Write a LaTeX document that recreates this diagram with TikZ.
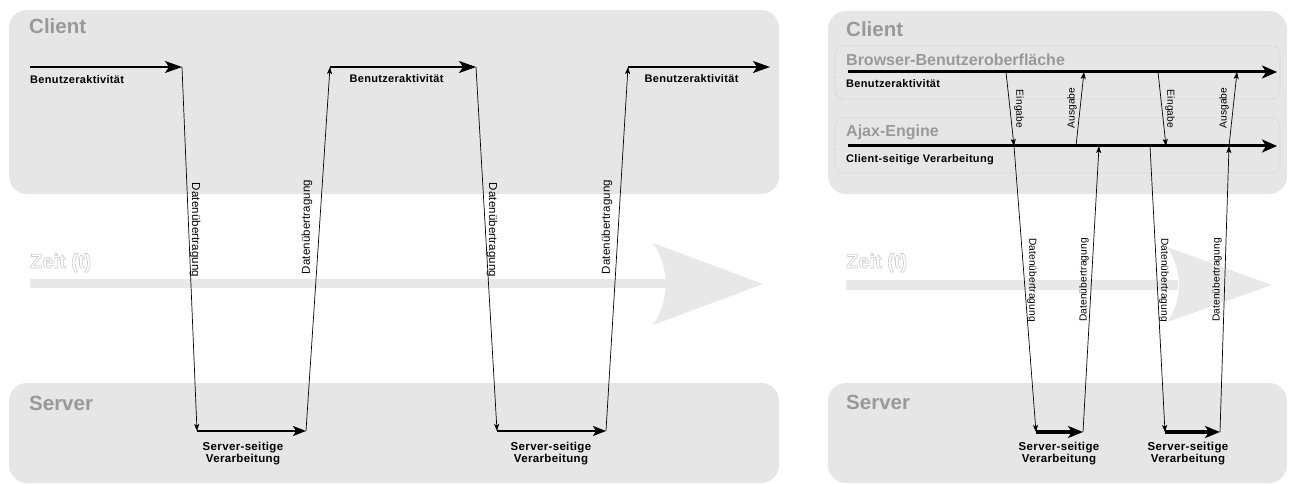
\documentclass[tikz,border=0pt]{standalone}
\usepackage{fontspec}
\setmainfont{Liberation Sans}
\newfontfamily\lblfont[LetterSpace=3]{Liberation Sans}
\newfontfamily\xferfont[LetterSpace=1]{Liberation Sans}
\usetikzlibrary{arrows.meta}
\definecolor{boxgray}{HTML}{E6E6E6}
\definecolor{titlegray}{HTML}{999999}
\definecolor{timegray}{HTML}{E8E8E8}
\definecolor{dotgray}{HTML}{B4B4B4}
\newcommand\outlinedtext[1]{\special{pdf:literal direct 0.80 G 0.6 w 2 Tr}#1\special{pdf:literal direct 0 Tr}}
\begin{document}
\begin{tikzpicture}[x=1pt,y=-1pt,
  panel/.style={fill=boxgray,draw=none,rounded corners=18pt},
  subpanel/.style={draw=dotgray,dotted,line width=0.6pt,rounded corners=8pt},
  timebar/.style={fill=timegray,draw=none},
  title/.style={font=\fontsize{20.5}{24}\selectfont\bfseries,text=titlegray,anchor=base west,inner sep=0pt},
  subtitle/.style={font=\fontsize{16}{19}\selectfont\bfseries,text=titlegray,anchor=base west,inner sep=0pt},
  zeit/.style={font=\fontsize{20}{24}\selectfont\bfseries,text=white,anchor=base west,inner sep=0pt},
  act/.style={font=\lblfont\fontsize{11}{12}\selectfont\bfseries,anchor=base west,inner sep=0pt},
  srv/.style={font=\lblfont\fontsize{11.5}{12}\selectfont\bfseries,align=center,inner sep=0pt},
  xfer/.style={font=\xferfont\fontsize{11.5}{12}\selectfont,inner sep=0pt},
  xfers/.style={font=\xferfont\fontsize{10.2}{12}\selectfont,inner sep=0pt},
  userflow/.style={line width=1.6pt,-{Stealth[length=17pt,width=12pt,inset=4pt]}},
  srvflow/.style={line width=1.6pt,-{Stealth[length=13pt,width=10pt,inset=3pt]}},
  thinflow/.style={line width=0.7pt,-{Stealth[length=7pt,width=5pt,inset=1.5pt]}},
  heavyflow/.style={line width=3pt,-{Stealth[length=15pt,width=13pt,inset=4pt]}},
  srvheavy/.style={line width=3.5pt,-{Stealth[length=15pt,width=12pt,inset=4pt]}}]
\useasboundingbox (0,0) rectangle (1290,484);

% ---------- left panel ----------
\path[panel] (9,10) rectangle (779,194);
\path[panel] (9,383) rectangle (779,483);
\path[timebar] (30,279) rectangle (668,288);
\path[timebar] (653,243) -- (763,284) -- (653,325) .. controls (670,300) and (670,268) .. (653,243);

\node[title] (clientL) at (29,34) {Client};
\node[title] (serverL) at (29,410) {Server};
\node[zeit] (zeitL) at (30,268) {\outlinedtext{Zeit (t)}};

\coordinate (a0) at (30,67);
\coordinate (a1) at (182,67);
\coordinate (s1) at (197,431);
\coordinate (s2) at (306,431);
\coordinate (a2) at (330,67);
\coordinate (a3) at (476,67);
\coordinate (s3) at (497,431);
\coordinate (s4) at (606,431);
\coordinate (a4) at (628,67);
\coordinate (a5) at (770,67);

\draw[userflow] (a0) -- (a1);
\draw[thinflow] (a1) -- (s1);
\draw[srvflow] (s1) -- (s2);
\draw[thinflow] (s2) -- (a2);
\draw[userflow] (a2) -- (a3);
\draw[thinflow] (a3) -- (s3);
\draw[srvflow] (s3) -- (s4);
\draw[thinflow] (s4) -- (a4);
\draw[userflow] (a4) -- (a5);

\node[act] (ba1) at (30,84) {Benutzeraktivität};
\node[act,anchor=base] (ba2) at (396.5,83) {Benutzeraktivität};
\node[act,anchor=base] (ba3) at (691.5,83) {Benutzeraktivität};

\node[xfer,rotate=-90] (dx1) at (195,230) {Datenübertragung};
\node[xfer,rotate=90] (dx2) at (307,227) {Datenübertragung};
\node[xfer,rotate=-90] (dx3) at (492,230) {Datenübertragung};
\node[xfer,rotate=90] (dx4) at (607,227) {Datenübertragung};

\node[srv] (sv1) at (243,454) {Server-seitige\\Verarbeitung};
\node[srv] (sv2) at (551,454) {Server-seitige\\Verarbeitung};

% ---------- right panel ----------
\path[panel] (828,11) rectangle (1287,194);
\path[panel] (828,383) rectangle (1287,483);
\path[subpanel] (835,46) rectangle (1280,99);
\path[subpanel] (835,118) rectangle (1280,173);
\path[timebar] (846,280) rectangle (1178,290);
\path[timebar] (1167,247) -- (1272,285) -- (1167,322) .. controls (1183,300) and (1183,270) .. (1167,247);

\node[title] (clientR) at (846,37) {Client};
\node[title] (serverR) at (846,409) {Server};
\node[subtitle] (browser) at (846,66) {Browser-Benutzeroberfläche};
\node[subtitle] (ajax) at (846,137) {Ajax-Engine};
\node[zeit] (zeitR) at (846,268) {\outlinedtext{Zeit (t)}};

\coordinate (b0) at (848,72);
\coordinate (b1) at (1277,72);
\coordinate (j0) at (848,146);
\coordinate (j1) at (1277,146);
\coordinate (e1s) at (1006,72);
\coordinate (e1e) at (1014,146);
\coordinate (o1s) at (1076,146);
\coordinate (o1e) at (1084,72);
\coordinate (e2s) at (1158,72);
\coordinate (e2e) at (1166,146);
\coordinate (o2s) at (1229,146);
\coordinate (o2e) at (1237,72);
\coordinate (q1) at (1099,146);
\coordinate (q2) at (1150,146);
\coordinate (r1) at (1036,432);
\coordinate (r2) at (1083,432);
\coordinate (r3) at (1165,432);
\coordinate (r4) at (1220,432);

\draw[heavyflow] (b0) -- (b1);
\draw[heavyflow] (j0) -- (j1);
\draw[thinflow] (e1s) -- (e1e);
\draw[thinflow] (o1s) -- (o1e);
\draw[thinflow] (e2s) -- (e2e);
\draw[thinflow] (o2s) -- (o2e);
\draw[thinflow] (e1e) -- (r1);
\draw[thinflow] (r2) -- (q1);
\draw[thinflow] (q2) -- (r3);
\draw[thinflow] (r4) -- (o2s);
\draw[srvheavy] (r1) -- (r2);
\draw[srvheavy] (r3) -- (r4);

\node[act] (baR) at (846,88) {Benutzeraktivität};
\node[act] (cv) at (846,162) {Client-seitige Verarbeitung};

\node[xfers,rotate=-90] (in1) at (1019,109) {Eingabe};
\node[xfers,rotate=90] (out1) at (1072,108) {Ausgabe};
\node[xfers,rotate=-90] (in2) at (1170,109) {Eingabe};
\node[xfers,rotate=90] (out2) at (1224,108) {Ausgabe};

\node[xfers,rotate=-90] (dr1) at (1032,280) {Datenübertragung};
\node[xfers,rotate=90] (dr2) at (1084,280) {Datenübertragung};
\node[xfers,rotate=-90] (dr3) at (1164,280) {Datenübertragung};
\node[xfers,rotate=90] (dr4) at (1217,280) {Datenübertragung};

\node[srv] (sv3) at (1059,454) {Server-seitige\\Verarbeitung};
\node[srv] (sv4) at (1188,454) {Server-seitige\\Verarbeitung};
\end{tikzpicture}
\end{document}
